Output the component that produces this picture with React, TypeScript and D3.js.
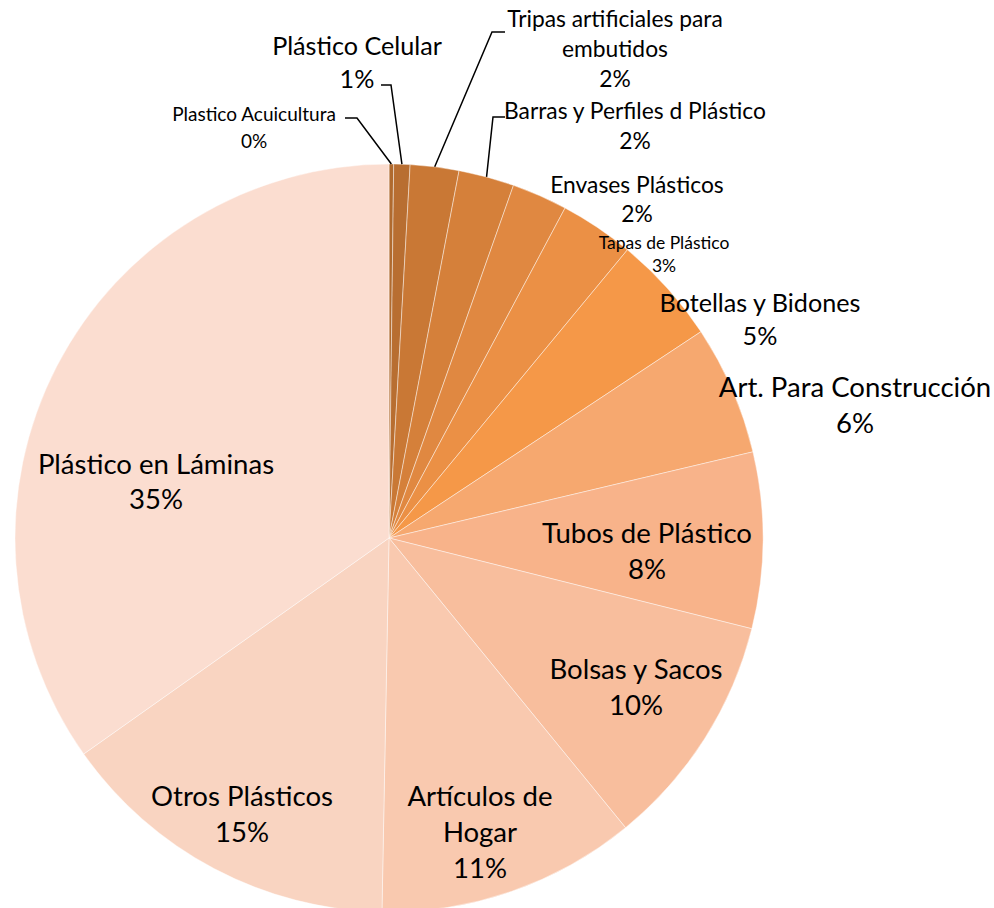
import React from "react";
import * as d3 from "d3";

// ---- data ----
const categories = [
  "Plastico Acuicultura",
  "Plástico Celular",
  "Tripas artificiales para embutidos",
  "Barras y Perfiles d Plástico",
  "Envases Plásticos",
  "Tapas de Plástico",
  "Botellas y Bidones",
  "Art. Para Construcción",
  "Tubos de Plástico",
  "Bolsas y Sacos",
  "Artículos de Hogar",
  "Otros Plásticos",
  "Plástico en Láminas",
];
const values = [0.2, 0.7, 2.1, 2.4, 2.4, 3.2, 4.7, 5.6, 7.6, 10.2, 11.2, 14.9, 34.8];
const labelLines = [
  ["Plastico Acuicultura"],
  ["Plástico Celular"],
  ["Tripas artificiales para", "embutidos"],
  ["Barras y Perfiles d Plástico"],
  ["Envases Plásticos"],
  ["Tapas de Plástico"],
  ["Botellas y Bidones"],
  ["Art. Para Construcción"],
  ["Tubos de Plástico"],
  ["Bolsas y Sacos"],
  ["Artículos de", "Hogar"],
  ["Otros Plásticos"],
  ["Plástico en Láminas"],
];

// ---- styles / layout ----
const colors = [
  "#B06A2E", "#B86E31", "#C97835", "#D5803A", "#E08841", "#EB9045", "#F59848",
  "#F6A86F", "#F8B38A", "#F8BE9D", "#F9C9AF", "#F9D4C1", "#FBDDD0",
];
const W = 994, H = 908;
const CX = 389, CY = 538, R = 374;
const FONT = "Lato, 'Open Sans', sans-serif";
const FS_SCALE = 0.95;
// label block: center x, center y of first line, line height, font size (Calibri px), leader elbow points
const labelLayout = [
  { x: 254, y: 113, lh: 27, fs: 20, leader: [[345, 118], [357, 118]] },
  { x: 357, y: 45, lh: 33, fs: 26.5, leader: [[381, 85], [391, 85]] },
  { x: 615, y: 18, lh: 30, fs: 24, leader: [[505, 32], [492, 32]] },
  { x: 635, y: 110, lh: 30, fs: 24, leader: [[505, 117], [493, 117]] },
  { x: 637, y: 184, lh: 29, fs: 24, leader: null },
  { x: 664, y: 242, lh: 23, fs: 18.4, leader: null },
  { x: 760, y: 302, lh: 33, fs: 26.5, leader: null },
  { x: 855, y: 386, lh: 36, fs: 29, leader: null },
  { x: 647, y: 532, lh: 36, fs: 29, leader: null },
  { x: 636, y: 668, lh: 36, fs: 29, leader: null },
  { x: 480, y: 795, lh: 36, fs: 29, leader: null },
  { x: 242, y: 795, lh: 36, fs: 29, leader: null },
  { x: 156, y: 463, lh: 35, fs: 29, leader: null },
];

export default function App() {
  const total = d3.sum(values);
  const pie = d3
    .pie<number>()
    .sort(null)
    .value((d) => d)
    .startAngle(0)
    .endAngle(2 * Math.PI);
  const arcs = pie(values);
  const arc = d3.arc<d3.PieArcDatum<number>>().innerRadius(0).outerRadius(R);

  return (
    <svg
      width={W}
      height={H}
      viewBox={`0 0 ${W} ${H}`}
      style={{ position: "absolute", left: 0, top: 0, display: "block", background: "#fff" }}
    >
      <g transform={`translate(${CX},${CY})`}>
        {arcs.map((a, i) => (
          <path
            key={categories[i]}
            d={arc(a) || ""}
            fill={colors[i]}
            stroke="#ffffff"
            strokeOpacity={0.55}
            strokeWidth={0.8}
          />
        ))}
      </g>
      {arcs.map((a, i) => {
        const L = labelLayout[i];
        if (!L.leader) return null;
        const mid = (a.startAngle + a.endAngle) / 2;
        const px = CX + R * Math.sin(mid);
        const py = CY - R * Math.cos(mid);
        const pts = [...L.leader, [px, py]];
        return (
          <polyline
            key={"l" + i}
            points={pts.map((p) => p.join(",")).join(" ")}
            fill="none"
            stroke="#000"
            strokeWidth={1.5}
          />
        );
      })}
      {arcs.map((a, i) => {
        const L = labelLayout[i];
        const lines = [...labelLines[i], `${Math.round((values[i] / total) * 100)}%`];
        return (
          <text
            key={"t" + i}
            textAnchor="middle"
            dominantBaseline="central"
            fontFamily={FONT}
            fontSize={L.fs * FS_SCALE}
            fill="#000"
          >
            {lines.map((s, j) => (
              <tspan key={j} x={L.x} y={L.y + j * L.lh}>
                {s}
              </tspan>
            ))}
          </text>
        );
      })}
    </svg>
  );
}
